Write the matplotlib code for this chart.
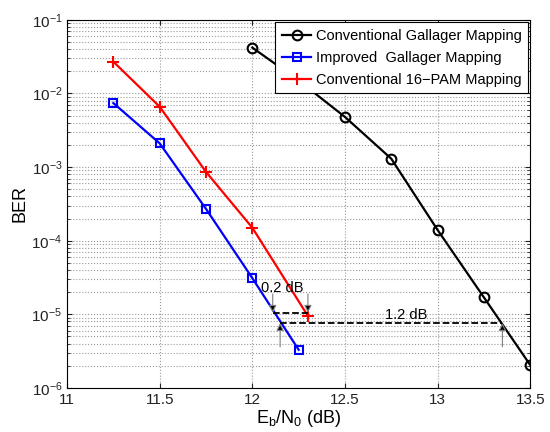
import matplotlib
matplotlib.use("Agg")
import matplotlib.pyplot as plt
from matplotlib.ticker import LogLocator, NullFormatter

plt.rcParams["font.family"] = ["Liberation Sans", "DejaVu Sans"]

# data
x_conv_gal = [12.0, 12.25, 12.5, 12.75, 13.0, 13.25, 13.5]
ber_conv_gal = [4.2e-2, 1.5e-2, 4.8e-3, 1.3e-3, 1.4e-4, 1.7e-5, 2.05e-6]
x_impr_gal = [11.25, 11.5, 11.75, 12.0, 12.25]
ber_impr_gal = [7.4e-3, 2.1e-3, 2.7e-4, 3.1e-5, 3.3e-6]
x_pam = [11.25, 11.5, 11.75, 12.0, 12.3]
ber_pam = [2.7e-2, 6.6e-3, 8.6e-4, 1.5e-4, 9.5e-6]

labels = ["Conventional Gallager Mapping",
          "Improved  Gallager Mapping",
          "Conventional 16\u2212PAM Mapping"]

# gap markers
gap1_x = [12.11, 12.3]
gap1_y = 1.05e-5
gap2_x = [12.15, 13.35]
gap2_y = 7.6e-6

fig = plt.figure(figsize=(5.5, 4.32), dpi=100)
ax = fig.add_axes([0.122, 0.102, 0.842, 0.852])

ax.semilogy(x_conv_gal, ber_conv_gal, "o-", color="black", lw=1.6, ms=7,
            mfc="none", mew=1.5, label=labels[0])
ax.semilogy(x_impr_gal, ber_impr_gal, "s-", color="blue", lw=1.6, ms=6,
            mfc="none", mew=1.5, label=labels[1])
ax.semilogy(x_pam, ber_pam, "+-", color="red", lw=1.6, ms=9,
            mew=1.5, label=labels[2])

# dashed gap lines
ax.plot(gap1_x, [gap1_y, gap1_y], "--", color="black", lw=1.3)
ax.plot(gap2_x, [gap2_y, gap2_y], "--", color="black", lw=1.3)

arrow = dict(arrowstyle="-|>", lw=0.8, mutation_scale=11,
             shrinkA=0, shrinkB=0, fc="black", ec="gray")
for xv in gap1_x:
    ax.annotate("", xy=(xv, gap1_y), xytext=(xv, gap1_y * 1.8),
                arrowprops=arrow)
for xv in gap2_x:
    ax.annotate("", xy=(xv, gap2_y), xytext=(xv, gap2_y / 2.1),
                arrowprops=arrow)

ax.text(12.16, 2.3e-5, "0.2 dB", ha="center", va="center", fontsize=10.5)
ax.text(12.83, 9.8e-6, "1.2 dB", ha="center", va="center", fontsize=10.5)

ax.set_xlim(11, 13.5)
ax.set_ylim(1e-6, 1e-1)
ax.set_xticks([11, 11.5, 12, 12.5, 13, 13.5])
ax.set_xticklabels(["11", "11.5", "12", "12.5", "13", "13.5"])
ax.yaxis.set_major_locator(LogLocator(base=10, numticks=10))
ax.yaxis.set_minor_locator(LogLocator(base=10, subs=range(2, 10), numticks=50))
ax.yaxis.set_minor_formatter(NullFormatter())

ax.grid(True, which="major", axis="both", ls=":", color="#999999", lw=0.8)
ax.grid(True, which="minor", axis="y", ls=":", color="#999999", lw=0.8)
ax.tick_params(which="both", direction="in", top=True, right=True,
               labelsize=11, colors="#222222")
ax.tick_params(which="minor", length=2)

ax.set_xlabel("E$_\\mathregular{b}$/N$_\\mathregular{0}$ (dB)", fontsize=13, labelpad=1)
ax.set_ylabel("BER", fontsize=13, labelpad=2)

leg = ax.legend(loc="upper right", fontsize=10.5, frameon=True, fancybox=False,
                borderaxespad=0.15, handlelength=2.0, handletextpad=0.3,
                borderpad=0.45, labelspacing=0.55)
leg.get_frame().set_edgecolor("black")
leg.get_frame().set_linewidth(0.8)
leg.get_frame().set_alpha(1.0)

fig.savefig("out.png", dpi=100)
